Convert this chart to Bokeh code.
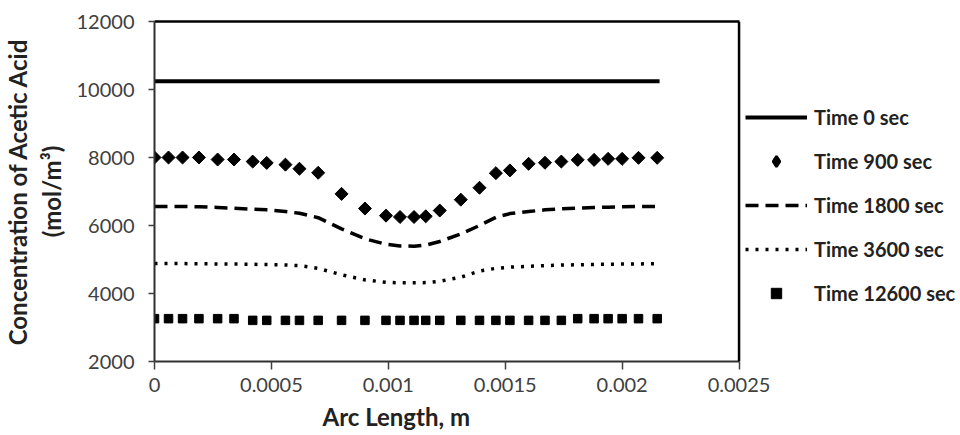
import math
from bokeh.plotting import figure
from bokeh.models import (Range1d, FixedTicker, Legend, LegendItem, Title, LinearAxis, Span)
from bokeh.embed import file_html
from bokeh.resources import INLINE

# ---- data ----
arc_length = [0.0, 0.00006, 0.00012, 0.00019, 0.00027, 0.00034, 0.00042, 0.00048,
              0.00056, 0.00062, 0.00070, 0.00080, 0.00090, 0.00099, 0.00105, 0.00111,
              0.00116, 0.00122, 0.00131, 0.00139, 0.00146, 0.00152, 0.00160, 0.00167,
              0.00174, 0.00181, 0.00188, 0.00194, 0.00200, 0.00207, 0.00215]

time0_x = [0.0, 0.00216]
time0_y = [10240, 10240]

time900 = [8000, 8000, 8000, 8000, 7940, 7940, 7880, 7840, 7790, 7670, 7550, 6930,
           6500, 6290, 6250, 6250, 6270, 6440, 6760, 7110, 7540, 7620, 7815, 7845,
           7880, 7930, 7930, 7960, 7960, 7990, 7990]

time1800 = [6560, 6560, 6560, 6550, 6530, 6510, 6480, 6460, 6410, 6360, 6230, 5900,
            5610, 5450, 5400, 5390, 5420, 5530, 5750, 6000, 6240, 6350, 6410, 6460,
            6490, 6510, 6530, 6540, 6555, 6560, 6560]

time3600 = [4880, 4880, 4880, 4875, 4870, 4865, 4860, 4850, 4840, 4820, 4740, 4550,
            4400, 4330, 4315, 4315, 4320, 4360, 4480, 4660, 4740, 4775, 4800, 4820,
            4835, 4845, 4855, 4860, 4865, 4870, 4875]

time12600 = [3260, 3260, 3260, 3260, 3260, 3260, 3210, 3210, 3210, 3210, 3210, 3210,
             3210, 3210, 3210, 3210, 3210, 3210, 3210, 3210, 3210, 3210, 3210, 3210,
             3210, 3260, 3260, 3260, 3260, 3260, 3260]

series_labels = ["Time 0 sec", "Time 900 sec", "Time 1800 sec", "Time 3600 sec", "Time 12600 sec"]

x_min, x_max = 0.0, 0.0025
y_min, y_max = 2000, 12000
x_ticks = [0, 0.0005, 0.001, 0.0015, 0.002, 0.0025]
x_tick_labels = ["0", "0.0005", "0.001", "0.0015", "0.002", "0.0025"]
y_ticks = [2000, 4000, 6000, 8000, 10000, 12000]
y_tick_labels = ["2000", "4000", "6000", "8000", "10000", "12000"]

x_title = "Arc Length, m"
y_title = "Concentration of Acetic Acid\n(mol/m\u00b3)"

FONT = "Lato"

# layout: plot box 586 px wide inside a frame that also holds the legend
W, H = 960, 435
LEFT, TOP, BOTTOM = 152, 21, 74
BOX_W = 586
frame_w = W - LEFT
x_view_max = x_max + (x_max - x_min) * (frame_w - BOX_W) / BOX_W

p = figure(width=W, height=H, output_backend="svg", toolbar_location=None,
           x_range=Range1d(x_min, x_view_max), y_range=Range1d(y_min, y_max),
           x_axis_type=None,
           min_border_left=LEFT, min_border_right=0, min_border_top=TOP,
           min_border_bottom=BOTTOM)
p.background_fill_color = "white"
p.border_fill_color = "white"
p.outline_line_color = None
p.xgrid.visible = False
p.ygrid.visible = False

r0 = p.line(time0_x, time0_y, line_color="black", line_width=4)
# diamond-shaped legend key (drawn beneath the rotated squares, hidden by them)
r1_key = p.scatter(arc_length, time900, marker="diamond", size=6, fill_color="black",
                   line_color="black", line_width=2.5)
r1 = p.scatter(arc_length, time900, marker="square", size=9.2, angle=math.pi / 4,
               fill_color="black", line_color="black")
r2 = p.line(arc_length, time1800, line_color="black", line_width=3.5, line_dash="13 7")
r3 = p.line(arc_length, time3600, line_color="black", line_width=3.5, line_dash="3 7")
r4 = p.scatter(arc_length, time12600, marker="square", size=8.5,
               fill_color="black", line_color="black")

# bottom axis limited to the plot box
xaxis = LinearAxis(ticker=FixedTicker(ticks=x_ticks), bounds=(x_min, x_max))
xaxis.major_label_overrides = {t: l for t, l in zip(x_ticks, x_tick_labels)}
xaxis.major_tick_out = 8
xaxis.major_label_standoff = 8
p.add_layout(xaxis, "below")

# top edge of the plot box
top_edge = LinearAxis(ticker=FixedTicker(ticks=[]), bounds=(x_min, x_max),
                      axis_line_color="black", axis_line_width=2.5,
                      major_label_text_font_size="0px", major_tick_line_color=None,
                      minor_tick_line_color=None)
p.add_layout(top_edge, "above")

# right edge of the plot box
p.add_layout(Span(location=x_max, dimension="height", line_color="black", line_width=2.5))

for ax in (xaxis, p.yaxis[0]):
    ax.axis_line_color = "#303030"
    ax.axis_line_width = 2
    ax.major_tick_line_color = "#404040"
    ax.major_tick_line_width = 1.5
    ax.minor_tick_line_color = None
    ax.major_tick_in = 0
    ax.major_label_text_font = FONT
    ax.major_label_text_font_size = "20px"
    ax.major_label_text_color = "#404040"

p.yaxis[0].ticker = FixedTicker(ticks=y_ticks)
p.yaxis[0].major_label_overrides = {t: l for t, l in zip(y_ticks, y_tick_labels)}
p.yaxis[0].major_tick_out = 6
p.yaxis[0].major_label_standoff = 14
p.yaxis[0].axis_label = y_title
p.yaxis[0].axis_label_text_font = FONT
p.yaxis[0].axis_label_text_font_style = "bold"
p.yaxis[0].axis_label_text_font_size = "24px"
p.yaxis[0].axis_label_text_color = "#222222"
p.yaxis[0].axis_label_standoff = 8
p.yaxis[0].axis_label_text_line_height = 1.15

xt = Title(text=x_title, align="left", offset=168, text_font=FONT,
           text_font_style="bold", text_font_size="24px", text_color="#222222")
p.add_layout(xt, "below")

legend = Legend(items=[
    LegendItem(label=series_labels[0], renderers=[r0]),
    LegendItem(label=series_labels[1], renderers=[r1_key]),
    LegendItem(label=series_labels[2], renderers=[r2]),
    LegendItem(label=series_labels[3], renderers=[r3]),
    LegendItem(label=series_labels[4], renderers=[r4]),
], location=(BOX_W + 5, 55), orientation="vertical", margin=0, padding=8,
    glyph_width=62, glyph_height=26, label_height=26, spacing=18, label_standoff=7,
    label_text_font=FONT, label_text_font_style="bold", label_text_font_size="20px",
    label_text_color="#222222", border_line_color=None, background_fill_alpha=0)
p.add_layout(legend, "center")

open("out.html", "w").write(file_html(p, INLINE))
